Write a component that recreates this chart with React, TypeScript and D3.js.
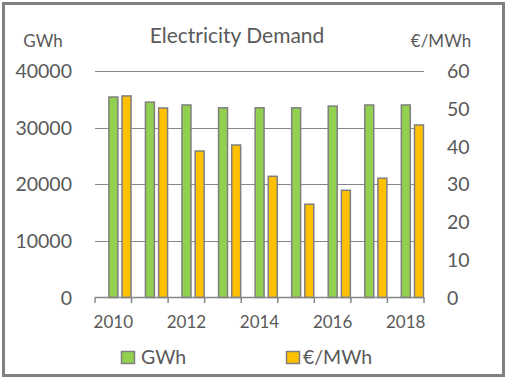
import React from "react";
import * as d3 from "d3";

const years = ["2010", "2011", "2012", "2013", "2014", "2015", "2016", "2017", "2018"];
const gwh = [35400, 34500, 34000, 33500, 33500, 33500, 33800, 34000, 34000];
const price = [53.4, 50.2, 38.8, 40.4, 32.1, 24.7, 28.4, 31.6, 45.7];
const leftTicks = [0, 10000, 20000, 30000, 40000];
const rightTicks = [0, 10, 20, 30, 40, 50, 60];
const xLabels = ["2010", "2012", "2014", "2016", "2018"];

const W = 506;
const H = 379;
const textColor = "#595959";
const gridColor = "#868686";
const borderColor = "#7f7f7f";
const green = "#92d050";
const yellow = "#ffc000";
const font = "Lato, 'Open Sans', sans-serif";

export default function App() {
  const x = d3.scaleBand<string>().domain(years).range([95, 424]).padding(0);
  const yL = d3.scaleLinear().domain([0, 40000]).range([297.5, 71]);
  const yR = d3.scaleLinear().domain([0, 60]).range([297.5, 71]);
  const bw = x.bandwidth();
  const barW = bw * 0.245;

  return (
    <svg width={W} height={H} style={{ position: "absolute", left: 0, top: 0 }} fontFamily={font}>
      <rect x={0} y={0} width={W} height={H} fill="#fff" />
      <rect x={3.5} y={3.5} width={500} height={372} fill="#fff" stroke={borderColor} strokeWidth={3} />
      {/* gridlines */}
      {leftTicks.slice(1).map((t) => (
        <line key={t} x1={95} x2={424} y1={Math.round(yL(t)) + 0.5} y2={Math.round(yL(t)) + 0.5} stroke={gridColor} strokeWidth={1} />
      ))}
      {/* bars */}
      {years.map((yr, i) => {
        const x0 = x(yr)!;
        return (
          <g key={yr}>
            <rect x={x0 + bw * 0.38} y={yL(gwh[i])} width={barW} height={yL(0) - yL(gwh[i])} fill={green} stroke={borderColor} strokeWidth={1.5} />
            <rect x={x0 + bw * 0.74} y={yR(price[i])} width={barW} height={yR(0) - yR(price[i])} fill={yellow} stroke={borderColor} strokeWidth={1.5} />
          </g>
        );
      })}
      {/* x axis */}
      <line x1={95} x2={424} y1={297.5} y2={297.5} stroke={gridColor} strokeWidth={1.5} />
      {years.map((yr) => (
        <line key={yr} x1={x(yr)!} x2={x(yr)!} y1={297.5} y2={303} stroke={gridColor} strokeWidth={1.5} />
      ))}
      <line x1={424} x2={424} y1={297.5} y2={303} stroke={gridColor} strokeWidth={1.5} />
      {xLabels.map((l) => (
        <text key={l} x={x(l)! + bw / 2} y={328} textAnchor="middle" fontSize={17} fill={textColor}>{l}</text>
      ))}
      {/* left ticks */}
      {leftTicks.map((t) => (
        <text key={t} x={72} y={yL(t) + 7} textAnchor="end" fontSize={19.5} fill={textColor}>{t}</text>
      ))}
      {/* right ticks */}
      {rightTicks.map((t) => (
        <text key={t} x={447} y={yR(t) + 7} textAnchor="start" fontSize={19.5} fill={textColor}>{t}</text>
      ))}
      {/* titles */}
      <text x={237} y={43.3} textAnchor="middle" fontSize={21} fill={textColor}>Electricity Demand</text>
      <text x={43} y={47} textAnchor="middle" fontSize={17} fill={textColor}>GWh</text>
      <text x={441} y={47} textAnchor="middle" fontSize={17} fill={textColor}>€/MWh</text>
      {/* legend */}
      <rect x={121.5} y={351.5} width={13} height={12} fill={green} stroke={borderColor} strokeWidth={1.5} />
      <text x={141} y={363.5} fontSize={19.5} fill={textColor}>GWh</text>
      <rect x={286.5} y={351.5} width={13} height={12} fill={yellow} stroke={borderColor} strokeWidth={1.5} />
      <text x={303} y={363.5} fontSize={19.5} fill={textColor}>€/MWh</text>
    </svg>
  );
}
